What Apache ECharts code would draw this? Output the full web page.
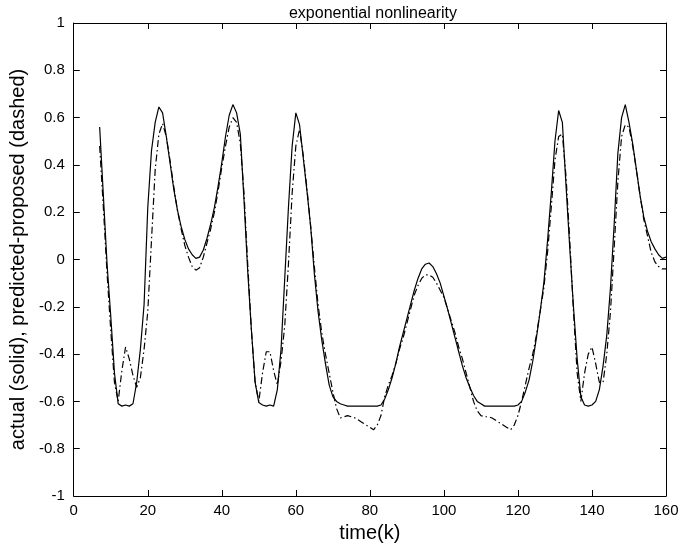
<!DOCTYPE html>
<html>
<head>
<meta charset="utf-8">
<script src="https://cdn.jsdelivr.net/npm/echarts@6/dist/echarts.min.js"></script>
<style>
html,body{margin:0;padding:0;background:#fff;}
#chart{width:685px;height:548px;}
</style>
</head>
<body>
<div id="chart"></div>
<script>
// time index of the first sample; samples are consecutive integer time steps
const firstK = 7;
// actual output (solid), k = 7 .. 160
const actual = [
  0.56, 0.27, -0.02, -0.24, -0.48, -0.61, -0.62, -0.615, -0.62, -0.61,      // 7-16
  -0.52, -0.38, -0.19, 0.22, 0.46, 0.58, 0.645, 0.62, 0.52, 0.41,           // 17-26
  0.30, 0.21, 0.14, 0.085, 0.045, 0.02, 0.005, 0.01, 0.04, 0.09,            // 27-36
  0.15, 0.22, 0.31, 0.41, 0.52, 0.61, 0.655, 0.62, 0.53, 0.25,              // 37-46
  -0.05, -0.30, -0.52, -0.605, -0.615, -0.62, -0.615, -0.62, -0.55, -0.38,  // 47-56
  -0.08, 0.22, 0.48, 0.62, 0.57, 0.43, 0.29, 0.14, -0.06, -0.22,            // 57-66
  -0.34, -0.44, -0.53, -0.58, -0.60, -0.61, -0.615, -0.62, -0.62, -0.62,    // 67-76
  -0.62, -0.62, -0.62, -0.62, -0.62, -0.62, -0.615, -0.59, -0.55, -0.50,    // 77-86
  -0.44, -0.37, -0.31, -0.25, -0.19, -0.13, -0.08, -0.04, -0.02, -0.015,    // 87-96
  -0.03, -0.06, -0.10, -0.155, -0.21, -0.27, -0.33, -0.39, -0.45, -0.50,    // 97-106
  -0.54, -0.575, -0.60, -0.61, -0.62, -0.62, -0.62, -0.62, -0.62, -0.62,    // 107-116
  -0.62, -0.62, -0.62, -0.615, -0.60, -0.56, -0.51, -0.43, -0.33, -0.22,    // 117-126
  -0.10, 0.08, 0.28, 0.50, 0.63, 0.58, 0.31, 0.05, -0.20, -0.42,            // 127-136
  -0.58, -0.615, -0.62, -0.615, -0.60, -0.55, -0.45, -0.32, -0.12, 0.15,    // 137-146
  0.45, 0.60, 0.655, 0.58, 0.49, 0.38, 0.27, 0.18, 0.12, 0.075,             // 147-156
  0.045, 0.02, 0.005, 0.01                                                  // 157-160
];
// predicted by the proposed model (dash-dot), k = 7 .. 160
const predicted = [
  0.48, 0.22, -0.06, -0.30, -0.52, -0.60, -0.47, -0.37, -0.42, -0.49,       // 7-16
  -0.54, -0.50, -0.38, -0.22, 0.08, 0.38, 0.53, 0.575, 0.52, 0.42,          // 17-26
  0.31, 0.21, 0.13, 0.06, 0.01, -0.03, -0.045, -0.035, 0.01, 0.07,          // 27-36
  0.13, 0.20, 0.29, 0.39, 0.48, 0.56, 0.60, 0.58, 0.49, 0.28,               // 37-46
  -0.02, -0.30, -0.52, -0.60, -0.48, -0.39, -0.39, -0.47, -0.53, -0.43,     // 47-56
  -0.28, -0.02, 0.28, 0.48, 0.55, 0.44, 0.30, 0.14, -0.03, -0.19,           // 57-66
  -0.31, -0.40, -0.48, -0.56, -0.63, -0.67, -0.665, -0.66, -0.665, -0.67,   // 67-76
  -0.68, -0.69, -0.70, -0.71, -0.72, -0.70, -0.66, -0.58, -0.53, -0.49,     // 77-86
  -0.44, -0.38, -0.33, -0.27, -0.21, -0.15, -0.11, -0.08, -0.065, -0.065,   // 87-96
  -0.075, -0.10, -0.13, -0.16, -0.21, -0.26, -0.31, -0.37, -0.42, -0.48,    // 97-106
  -0.54, -0.60, -0.64, -0.66, -0.665, -0.665, -0.67, -0.68, -0.69, -0.70,   // 107-116
  -0.71, -0.72, -0.70, -0.66, -0.60, -0.53, -0.46, -0.40, -0.32, -0.22,     // 117-126
  -0.12, 0.03, 0.22, 0.42, 0.52, 0.53, 0.35, 0.08, -0.22, -0.48,            // 127-136
  -0.60, -0.48, -0.40, -0.37, -0.44, -0.52, -0.52, -0.40, -0.22, 0.05,      // 137-146
  0.33, 0.52, 0.57, 0.56, 0.48, 0.38, 0.27, 0.17, 0.10, 0.03,               // 147-156
  -0.01, -0.03, -0.04, -0.04                                                // 157-160
];
const xTicks = [0, 20, 40, 60, 80, 100, 120, 140, 160];
const yTicks = [-1, -0.8, -0.6, -0.4, -0.2, 0, 0.2, 0.4, 0.6, 0.8, 1];
const titleText = 'exponential nonlinearity';
const xName = 'time(k)';
const yName = 'actual (solid), predicted-proposed (dashed)';

const FONT = '"Liberation Sans", Arial, Helvetica, sans-serif';
const toPairs = arr => arr.map((v, i) => [firstK + i, v]);
const fmtY = v => {
  const r = Math.round(v * 10) / 10;
  return r === 0 ? '0' : String(r);
};

const chart = echarts.init(document.getElementById('chart'), null, {renderer: 'canvas'});
const axisCommon = {
  axisLine: {show: true, onZero: false, lineStyle: {color: '#000', width: 1}},
  axisTick: {show: true, inside: true, length: 6, lineStyle: {color: '#000', width: 1}},
  splitLine: {show: false}
};
chart.setOption({
  animation: false,
  backgroundColor: '#fff',
  title: {
    text: titleText,
    left: 368, top: 1, textAlign: 'center',
    textStyle: {fontFamily: FONT, fontSize: 16, fontWeight: 'normal', color: '#000'}
  },
  grid: {left: 71, right: 19, top: 23, bottom: 52, containLabel: false},
  xAxis: [
    Object.assign({
      type: 'value', min: xTicks[0], max: xTicks[xTicks.length - 1], interval: 20,
      position: 'bottom',
      name: xName, nameLocation: 'middle', nameGap: 27,
      nameTextStyle: {fontFamily: FONT, fontSize: 20, color: '#000'},
      axisLabel: {fontFamily: FONT, fontSize: 15, color: '#000', margin: 7}
    }, axisCommon),
    Object.assign({
      type: 'value', min: xTicks[0], max: xTicks[xTicks.length - 1], interval: 20,
      position: 'top', axisLabel: {show: false}
    }, axisCommon)
  ],
  yAxis: [
    Object.assign({
      type: 'value', min: yTicks[0], max: yTicks[yTicks.length - 1], interval: 0.2,
      position: 'left',
      name: yName, nameLocation: 'middle', nameGap: 44,
      nameTextStyle: {fontFamily: FONT, fontSize: 20, color: '#000'},
      axisLabel: {fontFamily: FONT, fontSize: 15, color: '#000', margin: 9, formatter: fmtY}
    }, axisCommon),
    Object.assign({
      type: 'value', min: yTicks[0], max: yTicks[yTicks.length - 1], interval: 0.2,
      position: 'right', axisLabel: {show: false}
    }, axisCommon)
  ],
  series: [
    {
      name: 'actual', type: 'line', xAxisIndex: 0, yAxisIndex: 0,
      data: toPairs(actual), showSymbol: false, symbol: 'none', smooth: false,
      lineStyle: {color: '#000', width: 1.2, type: 'solid'}
    },
    {
      name: 'predicted', type: 'line', xAxisIndex: 0, yAxisIndex: 0,
      data: toPairs(predicted), showSymbol: false, symbol: 'none', smooth: false,
      lineStyle: {color: '#000', width: 1.2, type: [7, 3, 1.5, 3]}
    }
  ]
});
</script>
</body>
</html>
